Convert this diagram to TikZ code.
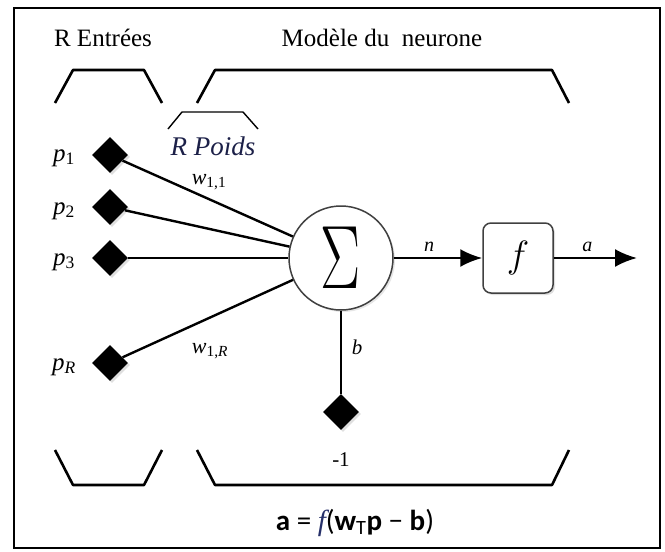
\documentclass[tikz,border=0pt]{standalone}
\usepackage{fix-cm}
\usepackage{fontspec}
\setmainfont{Liberation Serif}
\newfontfamily\formulefont{Carlito}
\usetikzlibrary{shapes.geometric,arrows.meta,shadows}
\definecolor{poidsbleu}{RGB}{28,32,72}
\definecolor{fbleu}{RGB}{38,48,105}

\begin{document}
\begin{tikzpicture}[>={Latex[length=22pt,width=18pt]}, x=1pt, y=-1pt,
    entree/.style={diamond, fill=black, minimum width=36pt, minimum height=36pt, inner sep=0pt,
      drop shadow={opacity=0.25, shadow xshift=2pt, shadow yshift=-2pt}},
    crochet/.style={line width=2.6pt, line join=round},
    lien/.style={line width=2.4pt},
    etiq/.style={inner sep=0pt, font=\fontsize{22}{26}\selectfont},
    titre/.style={inner sep=0pt, font=\fontsize{25}{30}\selectfont}]
  \useasboundingbox (0,0) rectangle (665,552);
  % Cadre
  \draw[line width=2.5pt] (14,8) rectangle (660,548);
  % Titres
  \node[titre] (titreE) at (103,38) {R Entrées};
  \node[titre] (titreM) at (382,38) {Modèle du\ \ neurone};
  % Crochets du haut
  \draw[crochet] (55,103) -- (73,70) -- (144,70) -- (162,103);
  \draw[crochet] (197,103) -- (215,70) -- (552,70) -- (569,103);
  \draw[line width=1.4pt] (168,129) -- (182,112) -- (243,112) -- (258,129);
  \node[inner sep=0pt, font=\fontsize{27}{30}\selectfont\itshape, text=poidsbleu] (poids) at (213,146) {R Poids};
  % Entrees
  \node[entree] (p1) at (110,155) {};
  \node[entree] (p2) at (110,207) {};
  \node[entree] (p3) at (110,258) {};
  \node[entree] (pR) at (110,363) {};
  \node[etiq, font=\fontsize{25}{28}\selectfont] (lp1) at (64,158) {\textit{p}\textsubscript{1}};
  \node[etiq, font=\fontsize{25}{28}\selectfont] (lp2) at (64,211) {\textit{p}\textsubscript{2}};
  \node[etiq, font=\fontsize{25}{28}\selectfont] (lp3) at (64,262) {\textit{p}\textsubscript{3}};
  \node[etiq, font=\fontsize{25}{28}\selectfont] (lpR) at (64,367) {\textit{p}\textsubscript{\textit{R}}};
  % Sommateur et fonction
  \node[circle, draw=black!75, line width=1.5pt, fill=white, minimum size=104pt, inner sep=0pt,
    drop shadow={opacity=0.2, shadow xshift=2pt, shadow yshift=-2pt}] (sum) at (341,258)
    {\fontsize{60}{60}\selectfont\scalebox{1}[1.5]{$\Sigma$}};
  \node[draw=black!75, line width=1.5pt, rounded corners=8pt, minimum size=70pt, fill=white,
    drop shadow={opacity=0.25, shadow xshift=2pt, shadow yshift=-2pt}] (fct) at (518,258)
    {\fontsize{38}{40}\selectfont$f$};
  % Poids
  \draw[lien] (p1) -- (sum);
  \draw[lien] (p2) -- (sum);
  \draw[lien] (p3) -- (sum);
  \draw[lien] (pR) -- (sum);
  \node[etiq] (w11) at (209,182) {\textit{w}\textsubscript{1,1}};
  \node[etiq] (w1R) at (210,351) {\textit{w}\textsubscript{1,\textit{R}}};
  % Biais
  \node[entree] (biais) at (341,412) {};
  \draw[line width=1.5pt] (sum) -- (biais);
  \node[etiq, font=\fontsize{21}{24}\selectfont\itshape] (lb) at (357,347) {b};
  \node[inner sep=0pt, font=\fontsize{21}{24}\selectfont] (moins) at (341,460) {-1};
  % Sortie
  \coordinate (sortie) at (637,258);
  \draw[lien,->] (sum) -- (fct) node[etiq, midway, above=5pt, xshift=-9pt, font=\fontsize{20}{22}\selectfont\itshape] (ln) {n};
  \draw[lien,->] (fct) -- (sortie) node[etiq, midway, above=5pt, xshift=-8pt, font=\fontsize{20}{22}\selectfont\itshape] (la) {a};
  % Crochets du bas
  \draw[crochet] (55,450) -- (73,485) -- (144,485) -- (162,450);
  \draw[crochet] (197,450) -- (215,485) -- (552,485) -- (569,450);
  % Formule
  \node[inner sep=0pt, font=\formulefont\fontsize{29}{34}\selectfont] (formule) at (355,523)
    {\textbf{a} = \textcolor{fbleu}{\rmfamily\itshape f}(\textbf{w}\textsubscript{T}\textbf{p} − \textbf{b})};
\end{tikzpicture}
\end{document}
